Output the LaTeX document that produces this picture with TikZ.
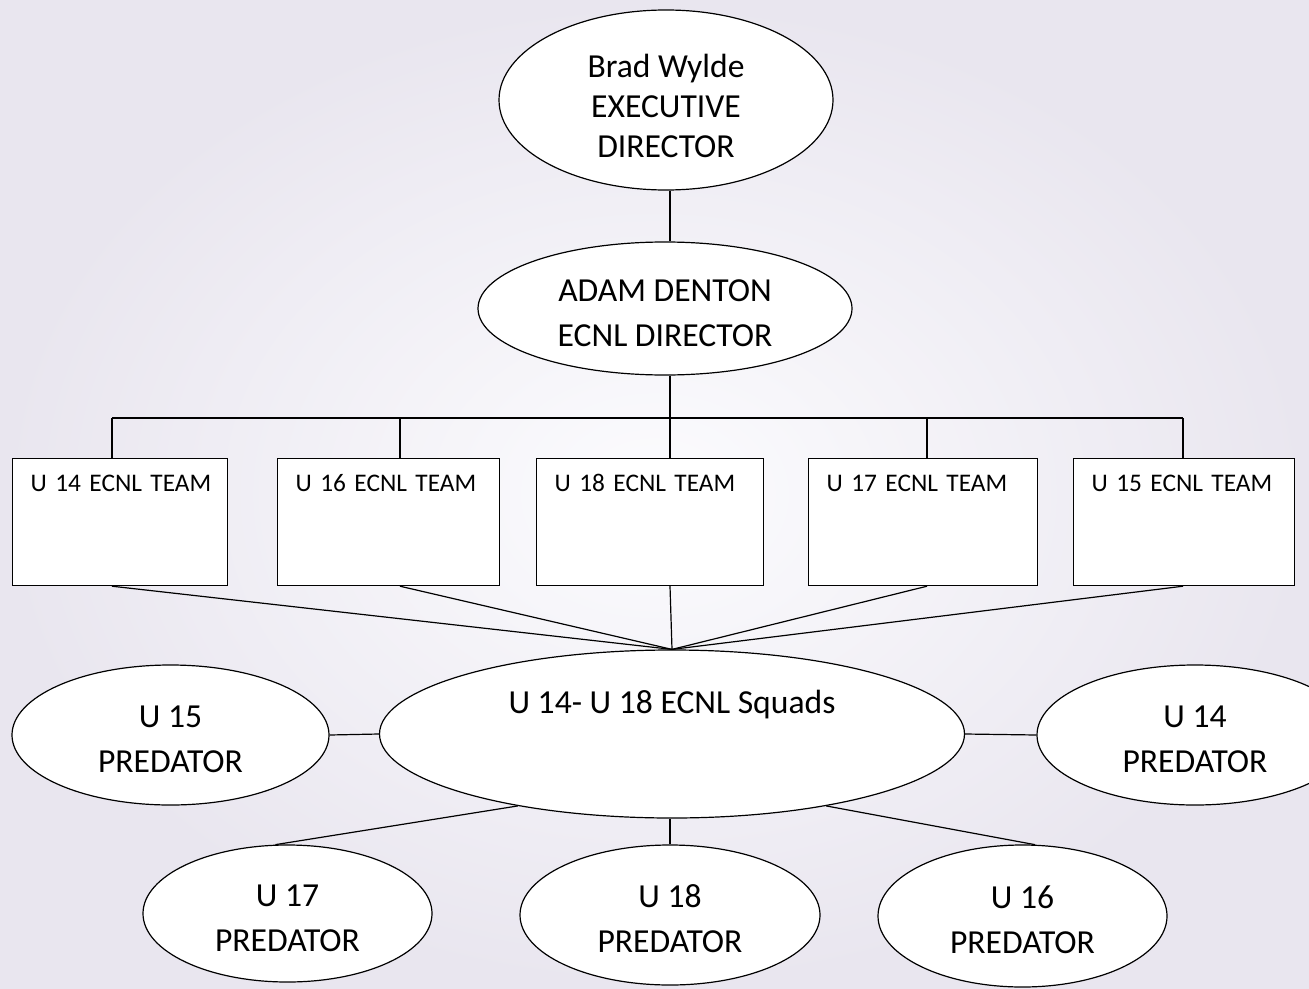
\documentclass[tikz,border=0pt]{standalone}
\usepackage{fontspec}
\setmainfont{Carlito}
\usetikzlibrary{shapes.geometric}
\definecolor{bgin}{RGB}{252,252,254}
\definecolor{bgout}{RGB}{233,230,239}
\newcommand{\bigtext}{\fontsize{25.2pt}{33.75pt}\selectfont}
\newcommand{\toptext}{\fontsize{25.2pt}{30pt}\selectfont}
\newcommand{\teamtext}{\fontsize{19pt}{23pt}\selectfont}

\begin{document}
\begin{tikzpicture}[x=0.75pt,y=-0.75pt,
		oval/.style={ellipse, draw, fill=white, line width=0.9pt, inner sep=0pt, align=center, font=\bigtext, text height=56.5pt},
		teambox/.style={rectangle, draw, fill=white, line width=0.9pt, anchor=north west, inner xsep=13.5pt, inner ysep=0pt, text height=24.75pt, text depth=70.5pt, text width=#1, align=left, font=\teamtext, execute at begin node=\hbox\bgroup, execute at end node=\egroup},
		link/.style={line width=0.9pt}]
			\useasboundingbox (0,0) rectangle (1309,988);
			\shade[inner color=bgin, outer color=bgout] (0,0) rectangle (1309,988);
			\node[oval, font=\toptext, text height=86.5pt, minimum width=250.5pt, minimum height=135pt] (exec) at (666,100) {Brad Wylde\\EXECUTIVE\\DIRECTOR};
			\node[oval, minimum width=280.5pt, minimum height=99.75pt] (ecnl) at (665,308.5) {ADAM DENTON\\ECNL DIRECTOR};
			\node[teambox=134.25pt] (team14) at (12,458) {U 14 ECNL TEAM};
			\node[teambox=139.5pt] (team16) at (277,458) {U 16 ECNL TEAM};
			\node[teambox=143.25pt] (team18) at (536,458) {U 18 ECNL TEAM};
			\node[teambox=144.75pt] (team17) at (808,458) {U 17 ECNL TEAM};
			\node[teambox=138.75pt] (team15) at (1073,458) {U 15 ECNL TEAM};
			\node[oval, minimum width=438.75pt, minimum height=126pt, text height=18pt, text depth=48.75pt] (squads) at (672,734) {U 14- U 18 ECNL Squads};
			\node[oval, minimum width=237.75pt, minimum height=105pt] (pred15) at (170.5,735) {U 15\\PREDATOR};
			\node[oval, minimum width=237pt, minimum height=105pt] (pred14) at (1195,735) {U 14\\PREDATOR};
			\node[oval, minimum width=216.75pt, minimum height=102.75pt] (pred17) at (287.5,913.5) {U 17\\PREDATOR};
			\node[oval, minimum width=225pt, minimum height=105pt] (pred18) at (670,915) {U 18\\PREDATOR};
			\node[oval, minimum width=216.75pt, minimum height=106.5pt] (pred16) at (1022.5,916) {U 16\\PREDATOR};
			\coordinate (j14) at (112,418);
			\coordinate (j16) at (400,418);
			\coordinate (j18) at (670,418);
			\coordinate (j17) at (927,418);
			\coordinate (j15) at (1183,418);
			\draw[link] (exec.south -| j18) -- (ecnl.north -| j18);
			\draw[link] (ecnl.south -| j18) -- (j18);
			\draw[link] (j14) -- (j15);
			\foreach \t in {14,16,18,17,15} {
				\draw[link] (j\t) -- (j\t |- team\t.north);
				\draw[link] (j\t |- team\t.south) -- (squads.north);
			}
			\draw[link] (squads.west) -- (pred15.east);
			\draw[link] (squads.east) -- (pred14.west);
			\draw[link] (squads.205) -- (pred17.100);
			\draw[link] (pred18.north) -- (pred18.north |- squads.south);
			\draw[link] (squads.335) -- (pred16.80);
		\end{tikzpicture}
\end{document}
